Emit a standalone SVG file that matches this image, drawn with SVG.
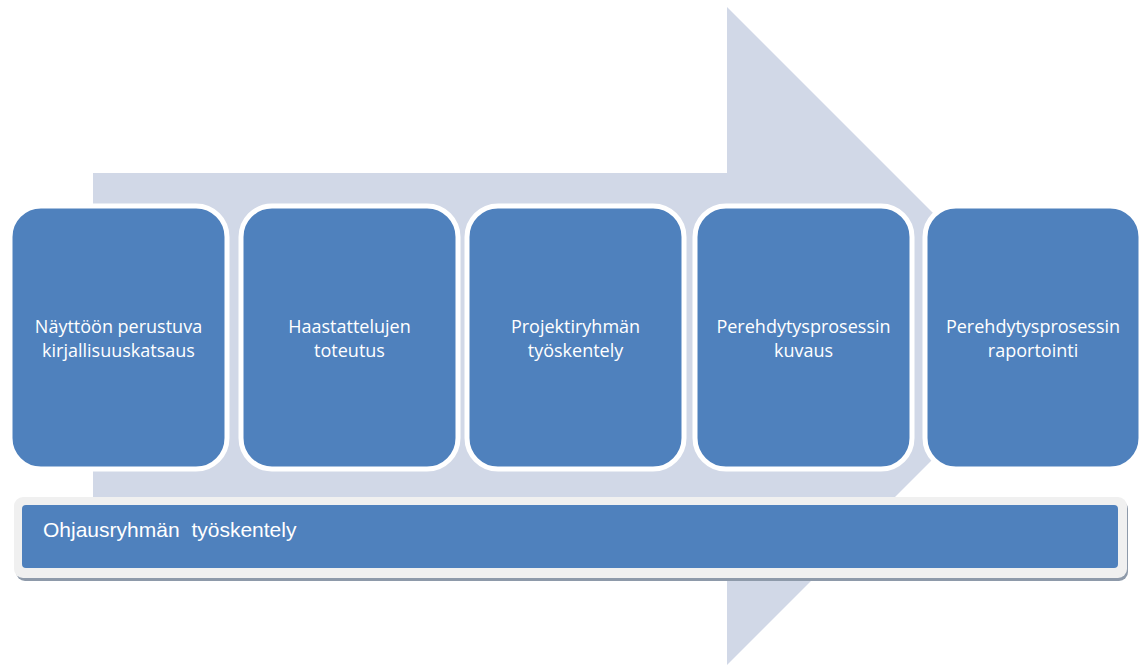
<svg xmlns="http://www.w3.org/2000/svg" width="1142" height="666" viewBox="0 0 1142 666">
<style>
.box{fill:#4F81BD;stroke:#FFFFFF;stroke-width:5}
.lbl{font-family:"Open Sans","Liberation Sans",sans-serif;font-size:18px;fill:#FFFFFF;text-anchor:middle}
.bar{font-family:"Liberation Sans",Arial,sans-serif;font-size:21px;fill:#FFFFFF;word-spacing:6px}
</style>
<rect width="1142" height="666" fill="#FFFFFF"/>
<g id="arrow">
<polygon points="93,173 727,173 727,7 1056,336 727,665 727,497 93,497" fill="#D1D8E7"/>
</g>
<g id="connectors"></g>
<g id="n1"><rect class="box" x="10" y="206" width="217" height="263" rx="31"/><text class="lbl" x="118.5" y="333">Näyttöön perustuva</text><text class="lbl" x="118.5" y="357">kirjallisuuskatsaus</text></g>
<g id="n2"><rect class="box" x="241" y="206" width="217" height="263" rx="31"/><text class="lbl" x="349.5" y="333">Haastattelujen</text><text class="lbl" x="349.5" y="357">toteutus</text></g>
<g id="n3"><rect class="box" x="467" y="206" width="217" height="263" rx="31"/><text class="lbl" x="575.5" y="333">Projektiryhmän</text><text class="lbl" x="575.5" y="357">työskentely</text></g>
<g id="n4"><rect class="box" x="695" y="206" width="217" height="263" rx="31"/><text class="lbl" x="803.5" y="333">Perehdytysprosessin</text><text class="lbl" x="803.5" y="357">kuvaus</text></g>
<g id="n5"><rect class="box" x="925" y="206" width="216" height="263" rx="31"/><text class="lbl" x="1033" y="333">Perehdytysprosessin</text><text class="lbl" x="1033" y="357">raportointi</text></g>
<g id="n6">
<rect x="16" y="500" width="1112" height="81" rx="9" fill="#8E9AAA"/>
<rect x="14" y="497" width="1113" height="81" rx="9" fill="#F0F0F0"/>
<rect x="22" y="505" width="1096" height="63" rx="4" fill="#4F81BD"/>
<text class="bar" x="43" y="537">Ohjausryhmän työskentely</text>
</g>
</svg>
